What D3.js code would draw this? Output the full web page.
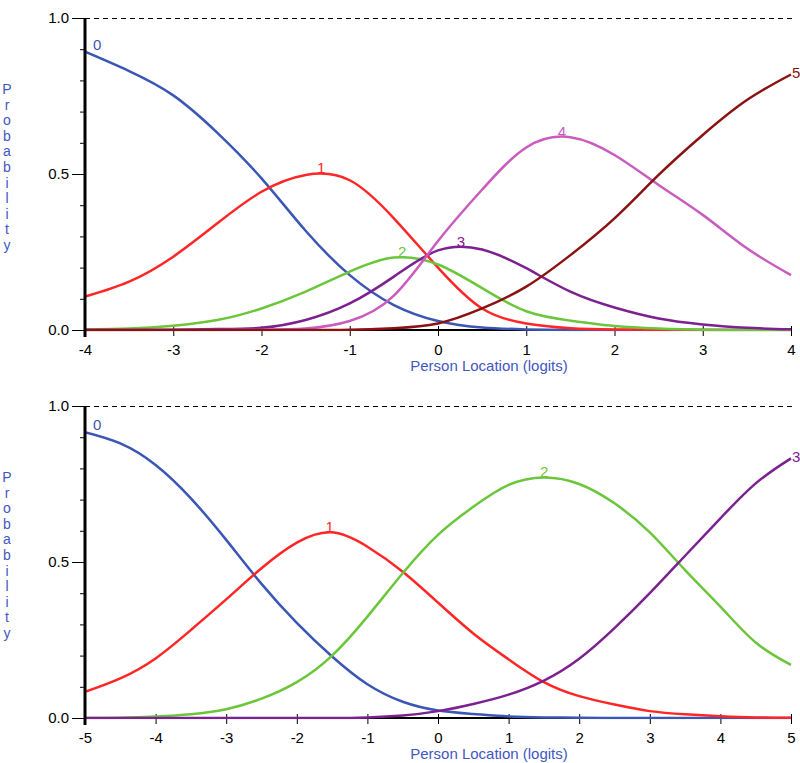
<!DOCTYPE html>
<html>
<head>
<meta charset="utf-8">
<script src="https://cdn.jsdelivr.net/npm/d3@7"></script>
<style>
body { margin: 0; background: #fff; }
svg { display: block; }
text { font-family: "Liberation Sans", Arial, sans-serif; }
</style>
</head>
<body>
<script>
// category probability curves, every half logit
const topLogits = [-4, -3.5, -3, -2.5, -2, -1.5, -1, -0.5, 0, 0.5, 1, 1.5, 2, 2.5, 3, 3.5, 4];
const topCat0 = [0.892, 0.83, 0.752, 0.632, 0.486, 0.318, 0.176, 0.08, 0.029, 0.008, 0.002, 0, 0, 0, 0, 0, 0];
const topCat1 = [0.107, 0.155, 0.235, 0.342, 0.443, 0.497, 0.48, 0.358, 0.2, 0.069, 0.021, 0.006, 0.002, 0.001, 0, 0, 0];
const topCat2 = [0.002, 0.005, 0.014, 0.032, 0.069, 0.123, 0.187, 0.232, 0.21, 0.134, 0.06, 0.03, 0.013, 0.005, 0.001, 0, 0];
const topCat3 = [0, 0, 0.001, 0.003, 0.007, 0.032, 0.085, 0.171, 0.255, 0.258, 0.198, 0.123, 0.072, 0.037, 0.018, 0.007, 0.002];
const topCat4 = [0, 0, 0, 0, 0.001, 0.005, 0.029, 0.11, 0.285, 0.45, 0.585, 0.618, 0.561, 0.465, 0.369, 0.262, 0.176];
const topCat5 = [0, 0, 0, 0, 0, 0, 0.001, 0.006, 0.021, 0.069, 0.139, 0.24, 0.358, 0.497, 0.625, 0.737, 0.819];

const bottomLogits = [-5, -4.5, -4, -3.5, -3, -2.5, -2, -1.5, -1, -0.5, 0, 0.5, 1, 1.5, 2, 2.5, 3, 3.5, 4, 4.5, 5];
const bottomCat0 = [0.916, 0.88, 0.811, 0.704, 0.571, 0.43, 0.305, 0.197, 0.108, 0.052, 0.024, 0.013, 0.005, 0.002, 0.001, 0, 0, 0, 0, 0, 0];
const bottomCat1 = [0.084, 0.127, 0.191, 0.282, 0.38, 0.48, 0.562, 0.595, 0.549, 0.469, 0.37, 0.271, 0.188, 0.115, 0.07, 0.043, 0.022, 0.012, 0.006, 0.002, 0.001];
const bottomCat2 = [0, 0.001, 0.005, 0.012, 0.028, 0.062, 0.115, 0.2, 0.325, 0.464, 0.587, 0.677, 0.747, 0.771, 0.75, 0.688, 0.595, 0.474, 0.357, 0.242, 0.17];
const bottomCat3 = [0, 0, 0, 0, 0, 0, 0, 0, 0.002, 0.008, 0.022, 0.045, 0.075, 0.12, 0.19, 0.288, 0.4, 0.52, 0.64, 0.752, 0.832];

const catColors = ["#3b56b5", "#ff2626", "#6cc63c", "#7d2090", "#c95cbe", "#8a1212"];
const topXTicks = [-4, -3, -2, -1, 0, 1, 2, 3, 4];
const bottomXTicks = [-5, -4, -3, -2, -1, 0, 1, 2, 3, 4, 5];
const yMajorTicks = [0, 0.5, 1];
const yMinorTicks = [0.1, 0.2, 0.3, 0.4, 0.6, 0.7, 0.8, 0.9];
const yTitle = "Probability";
const xTitle = "Person Location (logits)";
const labelBlue = "#4257c2";

const svg = d3.select("body").append("svg")
    .attr("width", 800)
    .attr("height", 763);

const defs = svg.append("defs");

function drawPanel(name, logits, series, xTicks, top, bottom) {
    const left = 85, right = 791;
    const x = d3.scaleLinear().domain([logits[0], logits[logits.length - 1]]).range([left, right]);
    const y = d3.scaleLinear().domain([0, 1]).range([bottom, top]);
    const g = svg.append("g");

    // keep spline wiggles from poking under the axis
    defs.append("clipPath").attr("id", "clip-" + name)
        .append("rect")
        .attr("x", left).attr("y", top - 20)
        .attr("width", right - left + 2).attr("height", bottom - top + 21.3);

    // dashed line at 1.0
    g.append("line")
        .attr("x1", left).attr("x2", right + 2)
        .attr("y1", y(1) + 0.5).attr("y2", y(1) + 0.5)
        .attr("stroke", "#000")
        .attr("stroke-width", 1)
        .attr("stroke-dasharray", "5,4");

    // x axis
    const xAxis = g.append("g")
        .attr("transform", `translate(0,${bottom})`)
        .call(d3.axisBottom(x).tickValues(xTicks).tickFormat(d => String(d)).tickSize(6).tickPadding(8));
    xAxis.select(".domain").remove();
    xAxis.selectAll(".tick line").attr("y1", -4).attr("stroke", "#000");
    xAxis.selectAll("text").attr("font-size", 15).attr("fill", "#000")
        .attr("font-family", "'Liberation Sans', Arial, sans-serif");

    g.append("line")
        .attr("x1", left).attr("x2", right)
        .attr("y1", bottom).attr("y2", bottom)
        .attr("stroke", "#000")
        .attr("stroke-width", 2);

    // curves
    const line = d3.line()
        .x((d, i) => x(logits[i]))
        .y(d => y(d))
        .curve(d3.curveNatural);

    const curves = g.append("g").attr("clip-path", `url(#clip-${name})`);

    series.forEach((vals, k) => {
        const path = curves.append("path")
            .attr("d", line(vals))
            .attr("fill", "none")
            .attr("stroke", catColors[k])
            .attr("stroke-width", 2.5);

        // label at the peak of the curve
        const iMax = d3.maxIndex(vals);
        let lx, ly, anchor = "middle";
        if (iMax === 0) {
            lx = x(logits[0]) + 8; ly = y(vals[0]) - 2; anchor = "start";
        } else if (iMax === vals.length - 1) {
            lx = x(logits[iMax]) + 1; ly = y(vals[iMax]) + 4; anchor = "start";
        } else {
            const node = path.node();
            const len = node.getTotalLength();
            let best = node.getPointAtLength(0);
            for (let s = 0; s <= len; s += 1) {
                const p = node.getPointAtLength(s);
                if (p.y < best.y) best = p;
            }
            lx = best.x; ly = best.y;
        }
        g.append("text")
            .attr("x", lx).attr("y", ly)
            .attr("text-anchor", anchor)
            .attr("font-size", 15)
            .attr("fill", catColors[k])
            .text(k);
    });

    // y axis, minor and major ticks
    const yMinor = g.append("g")
        .attr("transform", `translate(${left},0)`)
        .call(d3.axisLeft(y).tickValues(yMinorTicks).tickSize(5).tickFormat(""));
    yMinor.select(".domain").remove();
    yMinor.selectAll(".tick line").attr("stroke", "#000");

    const yMajor = g.append("g")
        .attr("transform", `translate(${left},0)`)
        .call(d3.axisLeft(y).tickValues(yMajorTicks).tickSize(13).tickPadding(3).tickFormat(d3.format(".1f")));
    yMajor.select(".domain").remove();
    yMajor.selectAll(".tick line").attr("stroke", "#000");
    yMajor.selectAll("text").attr("font-size", 15).attr("fill", "#000")
        .attr("font-family", "'Liberation Sans', Arial, sans-serif");

    g.append("line")
        .attr("x1", left).attr("x2", left)
        .attr("y1", top).attr("y2", bottom + 7)
        .attr("stroke", "#000")
        .attr("stroke-width", 3);

    // titles
    g.selectAll(".ylet")
        .data(yTitle.split(""))
        .enter().append("text")
        .attr("class", "ylet")
        .attr("x", 7)
        .attr("y", (d, i) => top + 76 + i * 15.6)
        .attr("text-anchor", "middle")
        .attr("font-size", 14)
        .attr("fill", labelBlue)
        .text(d => d);

    g.append("text")
        .attr("x", 489)
        .attr("y", bottom + 41)
        .attr("text-anchor", "middle")
        .attr("font-size", 15)
        .attr("fill", labelBlue)
        .text(xTitle);
}

drawPanel("top", topLogits, [topCat0, topCat1, topCat2, topCat3, topCat4, topCat5], topXTicks, 18, 330);
drawPanel("bottom", bottomLogits, [bottomCat0, bottomCat1, bottomCat2, bottomCat3], bottomXTicks, 406, 718);
</script>
</body>
</html>
